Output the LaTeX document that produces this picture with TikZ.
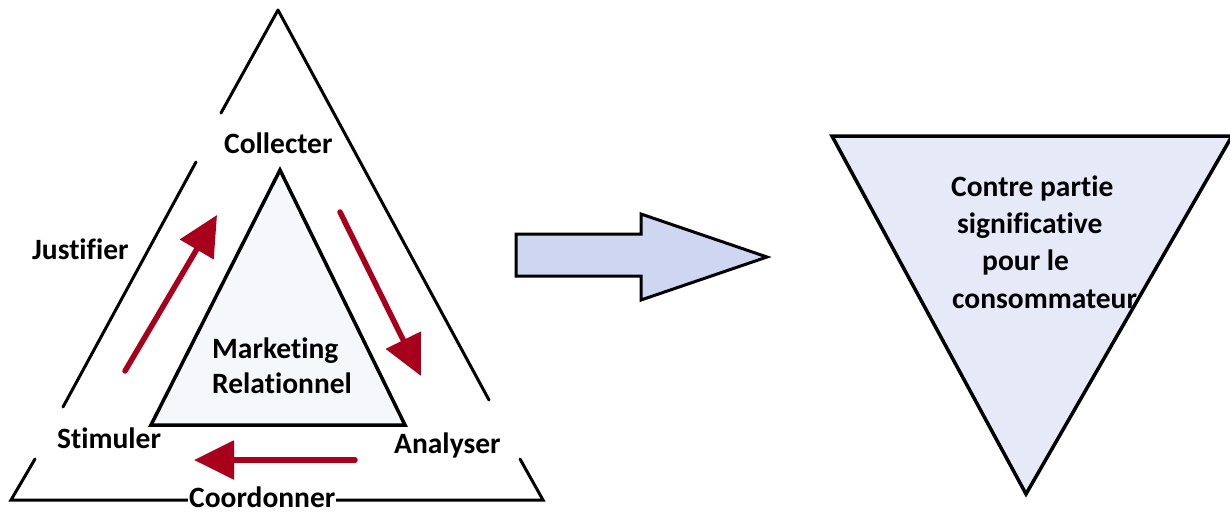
\documentclass[tikz,border=0pt]{standalone}
\usepackage{fontspec}
\setmainfont{Carlito}[Ligatures=NoCommon]
\usetikzlibrary{arrows.meta}
\definecolor{arrred}{RGB}{168,0,28}
\definecolor{bigarrow}{RGB}{207,214,242}
\definecolor{vfill}{RGB}{230,233,248}
\definecolor{innerfill}{RGB}{245,247,250}
\tikzset{
  lbl/.style={anchor=base west, inner sep=0pt, font=\fontsize{29.5}{35}\selectfont\bfseries, text=black},
  outerline/.style={line width=3pt, line cap=round, line join=miter},
  redarrow/.style={draw=arrred, line width=5.5pt, line cap=round, -{Triangle[length=40pt,width=38pt]}},
}
\begin{document}
\begin{tikzpicture}[x=1pt,y=-1pt]
\useasboundingbox (0,0) rectangle (1230,512);
% outer triangle coordinates
\coordinate (A) at (278,10);
\coordinate (BL) at (11,500);
\coordinate (BR) at (543,500);
\coordinate (L1) at (221,113);
\coordinate (L2) at (196,162);
\coordinate (L3) at (63,407);
\coordinate (L4) at (35,459);
\coordinate (R1) at (489,400);
\coordinate (R2) at (520,459);
% outer triangle with gaps
\draw[outerline] (A) -- (L1);
\draw[outerline] (L2) -- (L3);
\draw[outerline] (L4) -- (BL) -- (BR) -- (R2);
\draw[outerline] (A) -- (R1);
% inner triangle
\coordinate (IA) at (280,170);
\coordinate (IL) at (151,425);
\coordinate (IR) at (405,425);
\draw[line width=3.5pt, fill=innerfill, line join=miter] (IA) -- (IL) -- (IR) -- cycle;
% labels
\node[lbl] (collecter) at (224,153) {Collecter};
\node[lbl] (justifier) at (32,259) {Justifier};
\node[lbl] (marketing) at (212,358) {Marketing};
\node[lbl] (relationnel) at (212,393) {Relationnel};
\node[lbl] (stimuler) at (57,448) {Stimuler};
\node[lbl] (analyser) at (394,453) {Analyser};
\node[lbl, fill=white, inner xsep=1pt, inner ysep=1pt] (coordonner) at (188,507) {Coordonner};
% red arrows
\coordinate (a1s) at (125,371);
\coordinate (a1e) at (217,215);
\coordinate (a2s) at (340,212);
\coordinate (a2e) at (421,376);
\coordinate (a3s) at (355,460);
\coordinate (a3e) at (194,460);
\draw[redarrow] (a1s) -- (a1e);
\draw[redarrow] (a2s) -- (a2e);
\draw[redarrow] (a3s) -- (a3e);
% big arrow
\coordinate (b1) at (516,234);
\coordinate (b2) at (641,234);
\coordinate (b3) at (641,214);
\coordinate (b4) at (767,257);
\coordinate (b5) at (641,300);
\coordinate (b6) at (641,276);
\coordinate (b7) at (516,276);
\draw[line width=3pt, fill=bigarrow, line join=miter] (b1) -- (b2) -- (b3) -- (b4) -- (b5) -- (b6) -- (b7) -- cycle;
% inverted triangle
\coordinate (T1) at (832,136);
\coordinate (T2) at (1232,136);
\coordinate (T3) at (1026,494);
\draw[line width=3.5pt, fill=vfill, line join=miter] (T1) -- (T2) -- (T3) -- cycle;
\node[lbl] (contre) at (951,196) {Contre partie};
\node[lbl] (signif) at (957,233) {significative};
\node[lbl] (pour) at (982,270) {pour le};
\node[lbl] (conso) at (952,308) {consommateur};
\end{tikzpicture}
\end{document}
